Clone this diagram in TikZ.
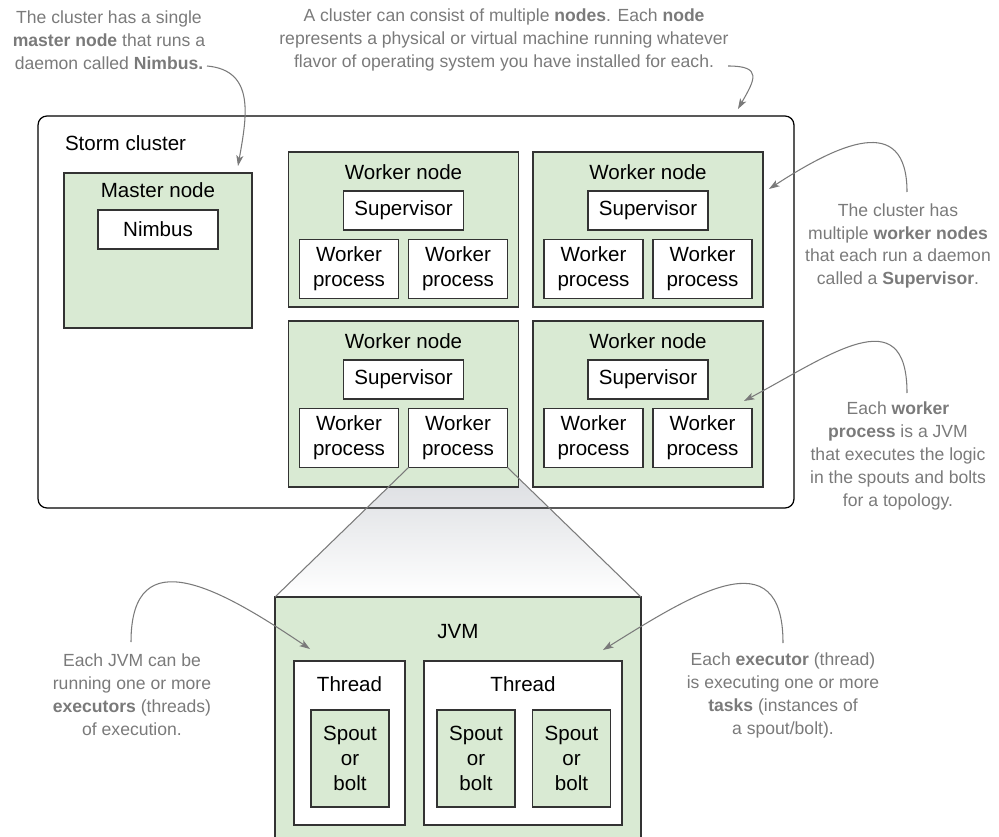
\documentclass[tikz,border=0pt]{standalone}
\usepackage{fontspec}
\setmainfont{Liberation Sans}
\usetikzlibrary{arrows.meta, positioning, calc}
\definecolor{stormgreen}{HTML}{D9EAD3}
\definecolor{stormline}{HTML}{333333}
\definecolor{stormnote}{HTML}{7A7A7A}
\definecolor{stormfunnel}{HTML}{DADCE0}

\begin{document}
\begin{tikzpicture}[x=0.02cm, y=0.02cm,
  every node/.style={inner sep=0pt, outer sep=0pt},
  boxfont/.style={font=\fontsize{11.7}{14.2}\selectfont},
  greenbox/.style={draw=stormline, line width=0.8pt, fill=stormgreen, boxfont, align=center},
  whitebox/.style={draw=stormline, line width=0.8pt, fill=white, boxfont, align=center},
  title/.style={boxfont},
  note/.style={font=\fontsize{10}{13}\selectfont, text=stormnote, align=center},
  callout/.style={draw=stormnote, line width=0.6pt, -{Stealth[length=6pt,width=4pt,inset=1.5pt]}}
]
  \useasboundingbox (0,0) rectangle (999,-837);

  % Zoom funnel (behind the cluster)
  \shade[top color=stormfunnel, bottom color=white]
    (408,-468) -- (507,-468) -- (641,-597) -- (275,-597) -- cycle;

  % Storm cluster
  \node[draw=black, line width=0.7pt, rounded corners=5pt,
        minimum width=15.12cm, minimum height=7.84cm] (cluster) at (416,-312) {};
  \node[title, anchor=west] (clustertitle) at (65,-143) {Storm cluster};

  % Master node
  \node[greenbox, minimum width=3.76cm, minimum height=3.10cm] (master) at (158,-250.5) {};
  \node[title] (mastertitle) at (158,-190) {Master node};
  \node[whitebox, minimum width=2.4cm, minimum height=0.78cm] (nimbus) at (158,-229.5) {Nimbus};

  % Worker nodes
  \foreach \cx/\ty/\h/\n in {403.5/152/155/1, 648/152/155/2, 403.5/321/166/3, 648/321/166/4} {
    \node[greenbox, minimum width=4.6cm, minimum height=\h*0.02cm] (worker\n) at (\cx,-\ty-\h/2) {};
    \node[title] (workertitle\n) at (\cx,-\ty-20) {Worker node};
    \node[whitebox, minimum width=2.4cm, minimum height=0.78cm] (super\n) at (\cx,-\ty-58.5) {Supervisor};
    \node[whitebox, minimum width=1.98cm, minimum height=1.18cm] (procA\n) at (\cx-54.5,-\ty-117) {Worker\\process};
    \node[whitebox, minimum width=1.98cm, minimum height=1.18cm] (procB\n) at (\cx+54.5,-\ty-117) {Worker\\process};
  }

  % JVM (runs off the bottom edge)
  \coordinate (jvmNW) at (275,-597);
  \coordinate (jvmNE) at (641,-597);
  \fill[stormgreen] (jvmNW) rectangle (641,-837);
  \draw[stormline, line width=0.8pt] (275,-837) -- (jvmNW) -- (jvmNE) -- (641,-837);
  \node[title] (jvmtitle) at (458,-632) {JVM};

  % Funnel edges
  \draw[stormnote, line width=0.6pt] (procB3.south west) -- (jvmNW);
  \draw[stormnote, line width=0.6pt] (procB3.south east) -- (jvmNE);

  % Threads
  \node[whitebox, minimum width=2.22cm, minimum height=3.28cm] (thread1) at (349.5,-743) {};
  \node[whitebox, minimum width=3.96cm, minimum height=3.28cm] (thread2) at (523,-743) {};
  \node[title] (threadtitle1) at (349.5,-684) {Thread};
  \node[title] (threadtitle2) at (523,-684) {Thread};
  \foreach \sx/\n in {350/1, 476/2, 571.5/3}
    \node[greenbox, minimum width=1.56cm, minimum height=1.94cm] (spout\n) at (\sx,-758.5) {Spout\\or\\bolt};

  % Notes
  \node[note] (note1) at (109,-40) {The cluster has a single\\\textbf{master node} that runs a\\daemon called \textbf{Nimbus.}};
  \node[note] (note2) at (504,-40) {A cluster can consist of multiple \textbf{nodes}. Each \textbf{node}\\represents a physical or virtual machine running whatever\\flavor of operating system you have installed for each.};
  \node[note] (note3) at (898,-246) {The cluster has\\multiple \textbf{worker nodes}\\that each run a daemon\\called a \textbf{Supervisor}.};
  \node[note] (note4) at (898,-456) {Each \textbf{worker}\\\textbf{process} is a JVM\\that executes the logic\\in the spouts and bolts\\for a topology.};
  \node[note] (note5) at (132,-694.5) {Each JVM can be\\running one or more\\\textbf{executors} (threads)\\of execution.};
  \node[note] (note6) at (783,-695.5) {Each \textbf{executor} (thread)\\is executing one or more\\\textbf{tasks} (instances of\\a spout/bolt).};

  % Callout arrows
  \coordinate (tail1) at (207,-66);
  \coordinate (tail2) at (728,-66);
  \coordinate (tail3) at (907,-192);
  \coordinate (tail4) at (907,-393);
  \coordinate (tail5) at (131,-642);
  \coordinate (tail6) at (783,-643);
  \coordinate (tip1) at ([shift={(-14,7)}]master.north east);
  \coordinate (tip2) at ([shift={(-56,7)}]cluster.north east);
  \coordinate (tip3) at ([shift={(6,-37)}]worker2.north east);
  \coordinate (tip4) at ([shift={(-19,-80)}]worker4.north east);
  \coordinate (tip5) at ([shift={(16,12)}]thread1.north west);
  \coordinate (tip6) at ([shift={(-19,11)}]thread2.north east);
  \draw[callout] (tail1) to[out=-5, in=80, looseness=1.2] (tip1);
  \draw[callout] (tail2) to[out=0, in=60, looseness=2] (tip2);
  \draw[callout] (tail3) to[out=90, in=33, looseness=1.5] (tip3);
  \draw[callout] (tail4) to[out=90, in=28, looseness=1.5] (tip4);
  \draw[callout] (tail5) to[out=90, in=146, looseness=1.5] (tip5);
  \draw[callout] (tail6) to[out=90, in=32, looseness=1.5] (tip6);
\end{tikzpicture}
\end{document}
